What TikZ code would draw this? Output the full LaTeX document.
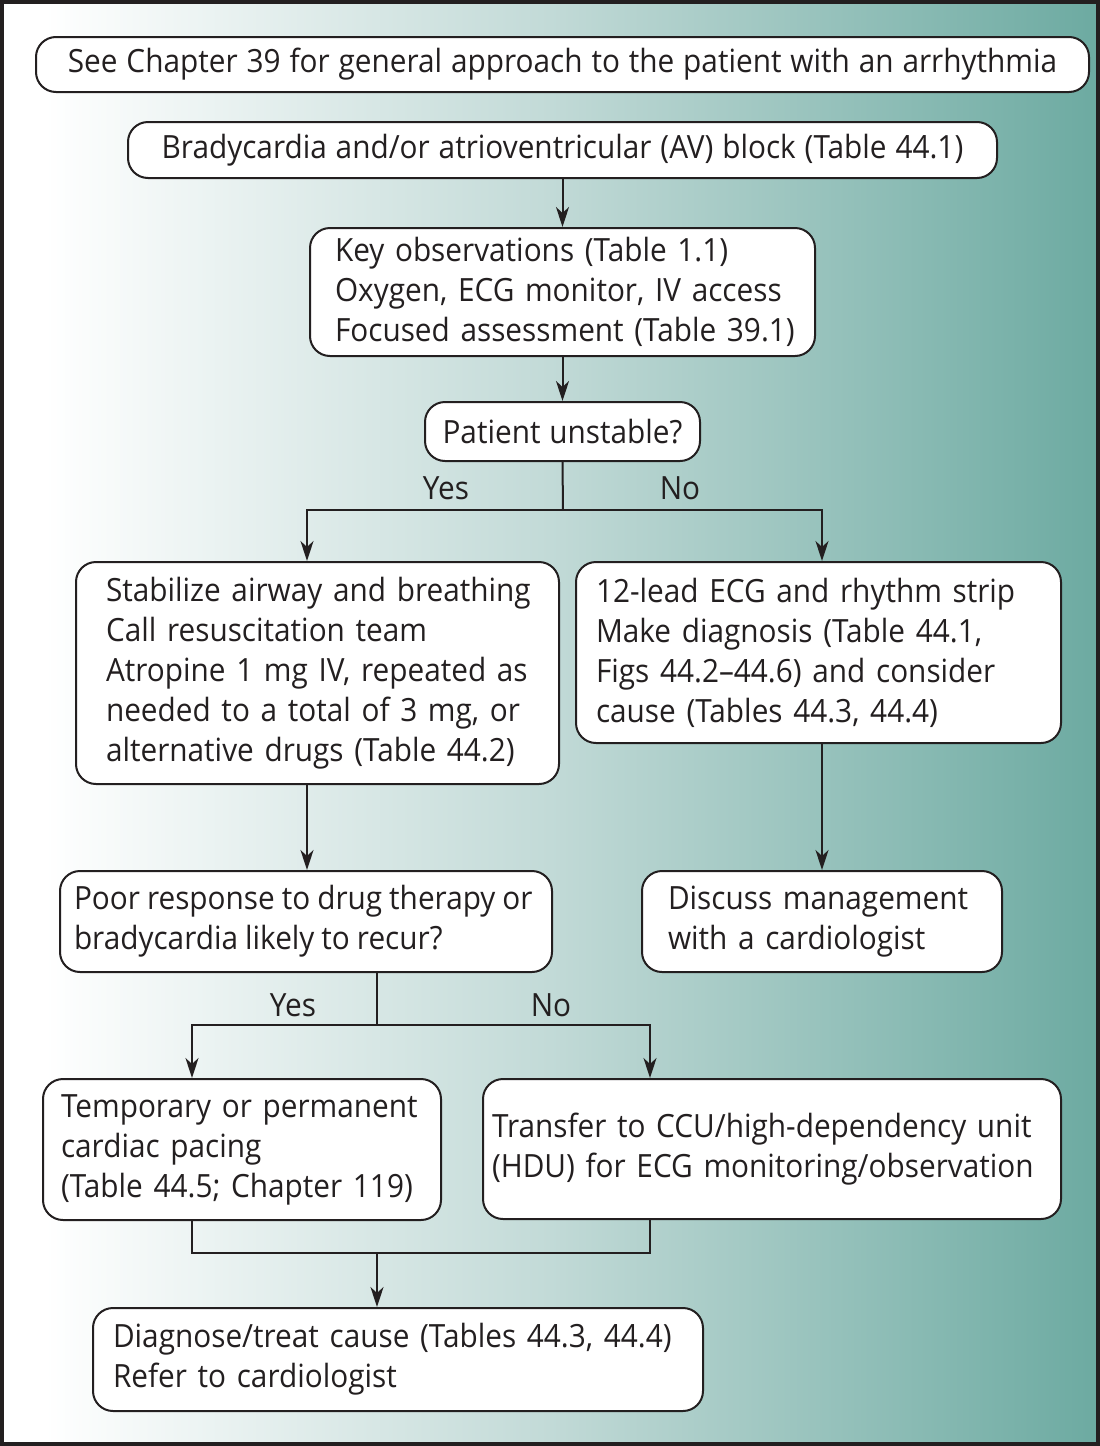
\documentclass[tikz,border=0pt]{standalone}
\usepackage{fontspec}
\setmainfont[FakeStretch=0.93,WordSpace=1.15]{Open Sans}
\usetikzlibrary{arrows.meta,calc}
\definecolor{ink}{RGB}{35,31,32}
\definecolor{midc}{RGB}{194,218,215}
\definecolor{endc}{RGB}{108,170,161}
\pgfdeclarehorizontalshading{bgshade}{100bp}{color(0bp)=(white); color(25bp)=(white); color(27bp)=(white); color(50bp)=(midc); color(75bp)=(endc); color(100bp)=(endc)}
\newcommand{\ol}[1]{\mbox{#1}}
\tikzset{
  box/.style={draw=ink, line width=2pt, rounded corners=20pt, fill=white, text=ink,
    font=\fontsize{32}{40}\selectfont, inner ysep=0pt},
  lbox/.style n args={3}{box, minimum width=#1pt, minimum height=#2pt, inner xsep=#3pt,
    text width=#1pt-2*#3pt, align=left},
  cbox/.style n args={2}{box, minimum width=#1pt, minimum height=#2pt, align=center},
  conn/.style={draw=ink, line width=2pt},
  arr/.style={conn, -{Stealth[length=20pt,width=13pt,inset=6pt]}},
  lbl/.style={text=ink, font=\fontsize{32}{40}\selectfont, inner sep=0pt}
}
\begin{document}
\begin{tikzpicture}[x=1pt,y=-1pt]
\useasboundingbox (0,0) rectangle (1100,1446);
\shade[shading=bgshade] (0,0) rectangle (1100,1446);
\draw[line width=4pt, draw=ink] (2,2) rectangle (1098,1444);

\node[cbox={1053}{55}] (top) at (562.5,64.5) {See Chapter 39 for general approach to the patient with an arrhythmia};
\node[cbox={869}{56}] (brady) at (562.5,150) {Bradycardia and/or atrioventricular (AV) block (Table 44.1)};
\node[lbox={505}{128}{25}] (keyobs) at (562.5,292) {\ol{Key observations (Table 1.1)}\\\ol{Oxygen, ECG monitor, IV access}\\\ol{Focused assessment (Table 39.1)}};
\node[cbox={275}{59}] (unstable) at (562.5,431.5) {Patient unstable?};
\node[lbox={483}{222}{30}] (stab) at (317.5,673) {\ol{Stabilize airway and breathing}\\\ol{Call resuscitation team}\\\ol{Atropine 1 mg IV, repeated as}\\\ol{needed to a total of 3 mg, or}\\\ol{alternative drugs (Table 44.2)}};
\node[lbox={485}{181}{20}] (lead) at (818.5,652.5) {\ol{12-lead ECG and rhythm strip}\\\ol{Make diagnosis (Table 44.1,}\\\ol{Figs 44.2--44.6) and consider}\\\ol{cause (Tables 44.3, 44.4)}};
\node[lbox={492}{101}{14}, execute at begin node={\spaceskip=7pt plus 1pt minus 1pt}] (poor) at (306,921.5) {\ol{Poor response to drug therapy or}\\\ol{bradycardia likely to recur?}};
\node[lbox={360}{101}{26}] (discuss) at (822,921.5) {\ol{Discuss management}\\\ol{with a cardiologist}};
\node[lbox={398}{141}{18}] (temp) at (242,1149.5) {\ol{Temporary or permanent}\\\ol{cardiac pacing}\\\ol{(Table 44.5; Chapter 119)}};
\node[lbox={578}{140}{9}] (transfer) at (772,1149) {\ol{Transfer to CCU/high-dependency unit}\\\ol{(HDU) for ECG monitoring/observation}};
\node[lbox={610}{103}{20}] (diag) at (398,1359.5) {\ol{Diagnose/treat cause (Tables 44.3, 44.4)}\\\ol{Refer to cardiologist}};

\node[lbl] (yes1) at (446,488) {Yes};
\node[lbl] (no1) at (680,488) {No};
\node[lbl] (yes2) at (293,1005) {Yes};
\node[lbl] (no2) at (551,1005) {No};

\draw[arr] (brady.south) -- (keyobs.north);
\draw[arr] (keyobs.south) -- (unstable.north);
\coordinate (j1) at (563,510);
\draw[conn] (unstable.south) -- (j1);
\draw[arr] (j1) -| ([xshift=-10.5pt]stab.north);
\draw[arr] (j1) -| ([xshift=3.5pt]lead.north);
\draw[arr] ([xshift=-10.5pt]stab.south) -- ([xshift=1pt]poor.north);
\draw[arr] ([xshift=3.5pt]lead.south) -- (discuss.north);
\coordinate (j2) at (377,1025);
\draw[conn] ([xshift=71pt]poor.south) -- (j2);
\draw[arr] (j2) -| ([xshift=-50pt]temp.north);
\draw[arr] (j2) -| ([xshift=-122pt]transfer.north);
\coordinate (j3) at (377,1253);
\draw[conn] ([xshift=-50pt]temp.south) |- (j3) -| ([xshift=-122pt]transfer.south);
\draw[arr] (j3) -- ([xshift=-21pt]diag.north);
\end{tikzpicture}
\end{document}
